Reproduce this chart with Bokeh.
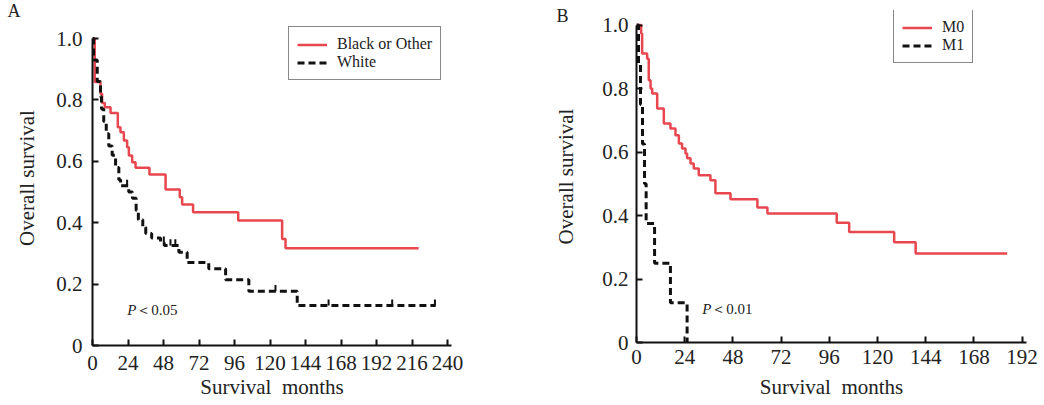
import numpy as np
from bokeh.plotting import figure
from bokeh.models import (Range1d, FixedTicker, CustomJSTickFormatter, Legend,
                          LegendItem, Label, Title)
from bokeh.layouts import row
from bokeh.embed import file_html
from bokeh.resources import INLINE

# ---------------- data ----------------
# Panel A: race
a_other_t = [0, 1.5, 5.4, 6.5, 8.3, 12.2, 17.1, 18.9, 21.2, 23.4, 24.6, 26.8, 29.1,
             38.5, 49.4, 59.0, 60.6, 68.0, 98.5, 128.2, 130.5, 220.5]
a_other_s = [1.0, 0.858, 0.82, 0.79, 0.776, 0.757, 0.711, 0.695, 0.668, 0.646, 0.619,
             0.597, 0.579, 0.557, 0.508, 0.483, 0.459, 0.434, 0.407, 0.347, 0.317, 0.317]

a_white_t = [0, 0.7, 3.2, 5.4, 6.1, 7.6, 9.3, 11.0, 13.3, 15.6, 17.8, 19.0, 24.5, 27.0,
             29.5, 31.0, 34.0, 36.0, 40.0, 46.0, 48.5, 58.4, 64.0, 78.6, 90.0, 105.7,
             138.4, 232.0]
a_white_s = [1.0, 0.93, 0.86, 0.81, 0.77, 0.73, 0.69, 0.65, 0.62, 0.58, 0.54, 0.52, 0.50,
             0.48, 0.44, 0.41, 0.385, 0.365, 0.35, 0.335, 0.326, 0.304, 0.27, 0.25, 0.214,
             0.177, 0.13, 0.13]
a_white_cens = [23.4, 48.2, 52.7, 56.0, 123.7, 159.6, 202.6, 231.5]

# Panel B: metastasis
b_m0_t = [0, 2.3, 2.8, 5.3, 6.1, 7.0, 7.8, 10.3, 13.6, 16.9, 19.4, 21.1, 22.7, 24.4,
          25.2, 26.9, 28.5, 31.0, 36.8, 39.3, 46.8, 60.2, 65.2, 99.7, 105.9, 128.3,
          139.0, 184.6]
b_m0_s = [1.0, 0.973, 0.91, 0.894, 0.826, 0.80, 0.784, 0.737, 0.69, 0.674, 0.653, 0.627,
          0.611, 0.595, 0.58, 0.564, 0.548, 0.527, 0.511, 0.47, 0.451, 0.425, 0.406,
          0.377, 0.348, 0.316, 0.28, 0.28]
b_m1_t = [0, 1.0, 2.0, 3.0, 4.0, 4.8, 9.0, 16.9, 25.2]
b_m1_s = [1.0, 0.875, 0.75, 0.625, 0.5, 0.375, 0.25, 0.125, 0.0]

x_ticks_a = [0, 24, 48, 72, 96, 120, 144, 168, 192, 216, 240]
x_ticks_b = [0, 24, 48, 72, 96, 120, 144, 168, 192]
y_ticks = [0, 0.2, 0.4, 0.6, 0.8, 1.0]

legend_a = ["Black or Other", "White"]
legend_b = ["M0", "M1"]
p_text_a = ["P", "\uff1c0.05"]
p_text_b = ["P", "\uff1c0.01"]
panel_letters = ["A", "B"]

RED = "#E8474F"
BLACK = "#111111"
TXT = "#222222"
FONT = "Liberation Serif"


def make_panel(frame_w, frame_h, xmax, ymax, b_left, b_right, b_bottom, xticks,
               y_std, ylab_std, x_std, xlab_std, letter, letter_off, letter_std):
    p = figure(frame_width=frame_w, frame_height=frame_h,
               x_range=Range1d(0, xmax), y_range=Range1d(0, ymax),
               output_backend="svg", toolbar_location=None,
               min_border_left=b_left, min_border_right=b_right,
               min_border_top=10, min_border_bottom=b_bottom,
               title=Title(text=letter, align="left", offset=letter_off,
                           standoff=letter_std, text_font=FONT,
                           text_font_size="18px", text_font_style="normal",
                           text_color=TXT))
    p.outline_line_color = None
    p.xgrid.visible = False
    p.ygrid.visible = False
    p.background_fill_color = "white"
    p.border_fill_color = "white"
    for ax in (p.xaxis[0], p.yaxis[0]):
        ax.axis_line_width = 2
        ax.axis_line_color = BLACK
        ax.major_tick_line_width = 2
        ax.major_tick_line_color = BLACK
        ax.major_tick_in = 6
        ax.major_tick_out = 0
        ax.minor_tick_line_color = None
        ax.major_label_text_font = FONT
        ax.major_label_text_font_size = "21px"
        ax.major_label_text_color = TXT
        ax.axis_label_text_font = FONT
        ax.axis_label_text_font_size = "21px"
        ax.axis_label_text_font_style = "normal"
        ax.axis_label_text_color = TXT
    p.xaxis[0].ticker = FixedTicker(ticks=xticks)
    p.yaxis[0].ticker = FixedTicker(ticks=y_ticks)
    p.yaxis[0].formatter = CustomJSTickFormatter(
        code="return tick == 0 ? '0' : tick.toFixed(1);")
    p.yaxis[0].bounds = (0, 1.0)
    p.xaxis[0].major_label_standoff = x_std
    p.yaxis[0].major_label_standoff = y_std
    p.xaxis[0].axis_label = "Survival\u00a0 months"
    p.xaxis[0].axis_label_standoff = xlab_std
    p.yaxis[0].axis_label = "Overall survival"
    p.yaxis[0].axis_label_standoff = ylab_std
    return p


# ---------------- panel A ----------------
pa = make_panel(359, 335, 242.7, 335 / 307, 92, 77, 59, x_ticks_a, 10, 14, 10, 2,
                panel_letters[0], -85, -21)
ra = pa.step(a_other_t, a_other_s, mode="after", line_color=RED, line_width=2.5)
ka = pa.step(a_white_t, a_white_s, mode="after", line_color=BLACK, line_width=3,
             line_dash="7 4")
ta = np.array(a_white_t)
sa = np.array(a_white_s)
cens_a = np.array(a_white_cens)
cens_a_s = sa[np.searchsorted(ta, cens_a, side="right") - 1]
pa.segment(x0=cens_a, y0=cens_a_s, x1=cens_a, y1=cens_a_s + 0.02,
           line_color=BLACK, line_width=2)

leg_a = Legend(items=[LegendItem(label=legend_a[0], renderers=[ra]),
                      LegendItem(label=legend_a[1], renderers=[ka])],
               location=(196, 265))
pa.add_layout(leg_a)

pa.add_layout(Label(x=23.5, y=0.117, text=p_text_a[0], text_font=FONT,
                    text_font_style="italic", text_font_size="15px",
                    text_color=TXT, text_baseline="alphabetic"))
pa.add_layout(Label(x=23.5, y=0.117, x_offset=9, text=p_text_a[1], text_font=FONT,
                    text_font_size="15px", text_color=TXT,
                    text_baseline="alphabetic"))

# ---------------- panel B ----------------
pb = make_panel(390, 332, 194.2, 332 / 317.5, 108, 14, 62, x_ticks_b, 8, 21, 7, 8,
                panel_letters[1], -80, -30)
rb = pb.step(b_m0_t, b_m0_s, mode="after", line_color=RED, line_width=2.5)
kb = pb.step(b_m1_t, b_m1_s, mode="after", line_color=BLACK, line_width=3,
             line_dash="7 4")
leg_b = Legend(items=[LegendItem(label=legend_b[0], renderers=[rb]),
                      LegendItem(label=legend_b[1], renderers=[kb])],
               location=(257, 279))
pb.add_layout(leg_b)

pb.add_layout(Label(x=32.7, y=0.107, text=p_text_b[0], text_font=FONT,
                    text_font_style="italic", text_font_size="15px",
                    text_color=TXT, text_baseline="alphabetic"))
pb.add_layout(Label(x=32.7, y=0.107, x_offset=9, text=p_text_b[1], text_font=FONT,
                    text_font_size="15px", text_color=TXT,
                    text_baseline="alphabetic"))

for lg in (leg_a, leg_b):
    lg.border_line_color = BLACK
    lg.border_line_width = 1.5
    lg.background_fill_color = "white"
    lg.background_fill_alpha = 1.0
    lg.label_text_font = FONT
    lg.label_text_font_size = "16px"
    lg.label_text_color = TXT
    lg.glyph_width = 30
    lg.glyph_height = 17
    lg.label_height = 17
    lg.label_standoff = 10
    lg.padding = 8
    lg.spacing = 0
    lg.margin = 0

layout = row(pa, pb)
open("out.html", "w").write(file_html(layout, INLINE))
